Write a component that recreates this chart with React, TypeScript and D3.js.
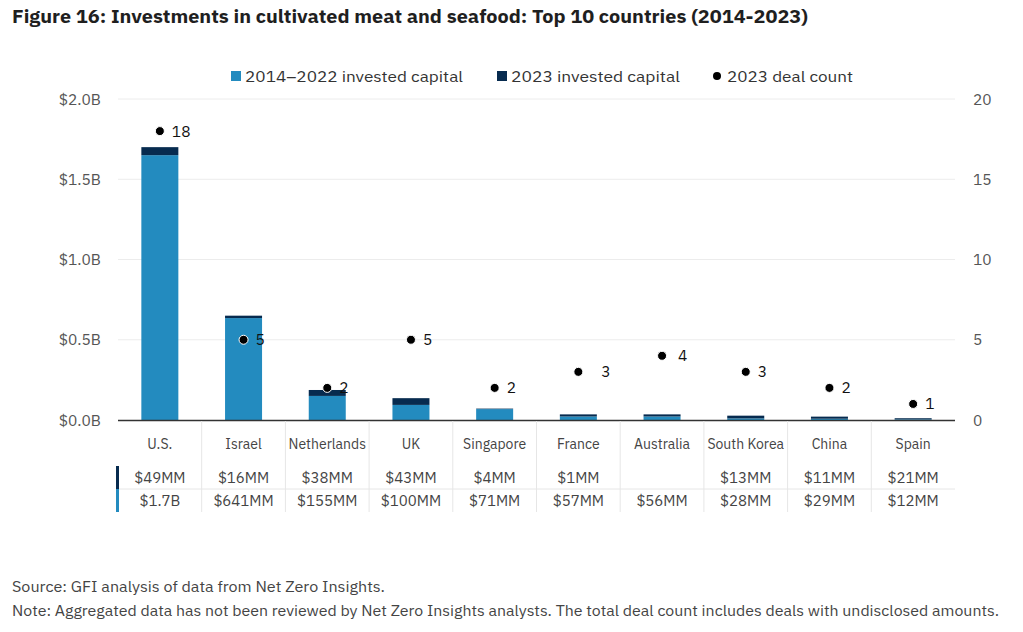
import React from "react";
import * as d3 from "d3";

const countries = ["U.S.", "Israel", "Netherlands", "UK", "Singapore", "France", "Australia", "South Korea", "China", "Spain"];
// bar heights (in $B)
const capital2014_2022 = [1.65, 0.635, 0.15, 0.094, 0.068, 0.022, 0.022, 0.01, 0.008, 0.004];
const capital2023 = [0.05, 0.015, 0.037, 0.042, 0.003, 0.013, 0.013, 0.017, 0.013, 0.007];
const dealCount2023 = [18, 5, 2, 5, 2, 3, 4, 3, 2, 1];
// table text
const table2023 = ["$49MM", "$16MM", "$38MM", "$43MM", "$4MM", "$1MM", "", "$13MM", "$11MM", "$21MM"];
const table2014_2022 = ["$1.7B", "$641MM", "$155MM", "$100MM", "$71MM", "$57MM", "$56MM", "$28MM", "$29MM", "$12MM"];
const leftTicks = [0, 0.5, 1.0, 1.5, 2.0];
const rightTicks = [0, 5, 10, 15, 20];
const legendItems = ["2014\u20132022 invested capital", "2023 invested capital", "2023 deal count"];

const W = 1023, H = 632;
const LIGHT = "#238bbf";
const DARK = "#072b4f";
const FONT = "'IBM Plex Sans', 'Noto Sans', 'Open Sans', sans-serif";
const labelNudge: Record<string, number> = { France: 11, Australia: 4 };

export default function App() {
  const x = d3.scaleBand<string>().domain(countries).range([118, 955]).paddingInner(0).paddingOuter(0);
  const y = d3.scaleLinear().domain([0, 2]).range([420, 99]);
  const y2 = d3.scaleLinear().domain([0, 20]).range([420, 99]);
  const barW = 37;
  const series = countries.map((c, i) => ({ c, a: capital2014_2022[i], b: capital2023[i], n: dealCount2023[i] }));
  const stack = d3.stack<any>().keys(["a", "b"])(series as any);
  const bw = x.bandwidth();

  return (
    <svg width={W} height={H} style={{ position: "absolute", left: 0, top: 0, background: "#fff" }} fontFamily={FONT}>
      <text x={12} y={23} fontSize={17.5} fontWeight={700} fill="#1f1f1f" textLength={796} lengthAdjust="spacingAndGlyphs">
        Figure 16: Investments in cultivated meat and seafood: Top 10 countries (2014-2023)
      </text>

      {/* legend */}
      <g fontSize={15.5} fill="#333">
        <rect x={231} y={71} width={10} height={10} fill={LIGHT} />
        <text x={245} y={81.5} textLength={218} lengthAdjust="spacingAndGlyphs">{legendItems[0]}</text>
        <rect x={497} y={71} width={10} height={10} fill={DARK} />
        <text x={511} y={81.5} textLength={169} lengthAdjust="spacingAndGlyphs">{legendItems[1]}</text>
        <circle cx={717} cy={76} r={4} fill="#000" />
        <text x={727} y={81.5} textLength={126} lengthAdjust="spacingAndGlyphs">{legendItems[2]}</text>
      </g>

      {/* gridlines */}
      {leftTicks.filter((t) => t > 0).map((t) => (
        <line key={t} x1={118} x2={955} y1={y(t)} y2={y(t)} stroke="#ececec" strokeWidth={1} />
      ))}
      {/* left axis labels */}
      {leftTicks.map((t) => (
        <text key={t} x={101} y={y(t) + 5.5} textAnchor="end" fontSize={15.5} fill="#555">
          {"$" + d3.format(".1f")(t) + "B"}
        </text>
      ))}
      {/* right axis labels */}
      {rightTicks.map((t) => (
        <text key={t} x={973} y={y2(t) + 5.5} textAnchor="start" fontSize={15.5} fill="#555">
          {t}
        </text>
      ))}

      {/* bars */}
      {stack.map((layer, li) => (
        <g key={li} fill={li === 0 ? LIGHT : DARK}>
          {layer.map((d: any, i: number) => (
            <rect key={i} x={(x(countries[i]) as number) + (bw - barW) / 2} width={barW}
              y={y(d[1])} height={Math.max(0, y(d[0]) - y(d[1]))} />
          ))}
        </g>
      ))}
      <line x1={118} x2={955} y1={420.5} y2={420.5} stroke="#333" strokeWidth={1.5} />

      {/* deal count dots */}
      {series.map((d) => {
        const cx = (x(d.c) as number) + bw / 2;
        const cy = y2(d.n);
        return (
          <g key={d.c}>
            <circle cx={cx} cy={cy} r={4.5} fill="#000" stroke="#fff" strokeWidth={1} />
            <text x={cx + 12 + (labelNudge[d.c] || 0)} y={cy + 5.5} fontSize={15.5} fill="#111">{d.n}</text>
          </g>
        );
      })}

      {/* table */}
      {countries.slice(1).map((c) => (
        <line key={c} x1={x(c)} x2={x(c)} y1={421} y2={512} stroke="#e6e6e6" strokeWidth={1} />
      ))}
      <line x1={118} x2={955} y1={489} y2={489} stroke="#e6e6e6" strokeWidth={1} />
      <rect x={116} y={466} width={3} height={23} fill={DARK} />
      <rect x={116} y={489} width={3} height={23} fill={LIGHT} />
      {countries.map((c, i) => {
        const cx = (x(c) as number) + bw / 2;
        return (
          <g key={c} textAnchor="middle" fill="#444">
            <text x={cx} y={449} fontSize={14}>{c}</text>
            <text x={cx} y={482.5} fontSize={15}>{table2023[i]}</text>
            <text x={cx} y={505.5} fontSize={15}>{table2014_2022[i]}</text>
          </g>
        );
      })}

      {/* footer */}
      <text x={12} y={592} fontSize={14.5} fill="#444" textLength={373} lengthAdjust="spacingAndGlyphs">
        Source: GFI analysis of data from Net Zero Insights.
      </text>
      <text x={12} y={616} fontSize={14.5} fill="#444" textLength={987} lengthAdjust="spacingAndGlyphs">
        Note: Aggregated data has not been reviewed by Net Zero Insights analysts. The total deal count includes deals with undisclosed amounts.
      </text>
    </svg>
  );
}
